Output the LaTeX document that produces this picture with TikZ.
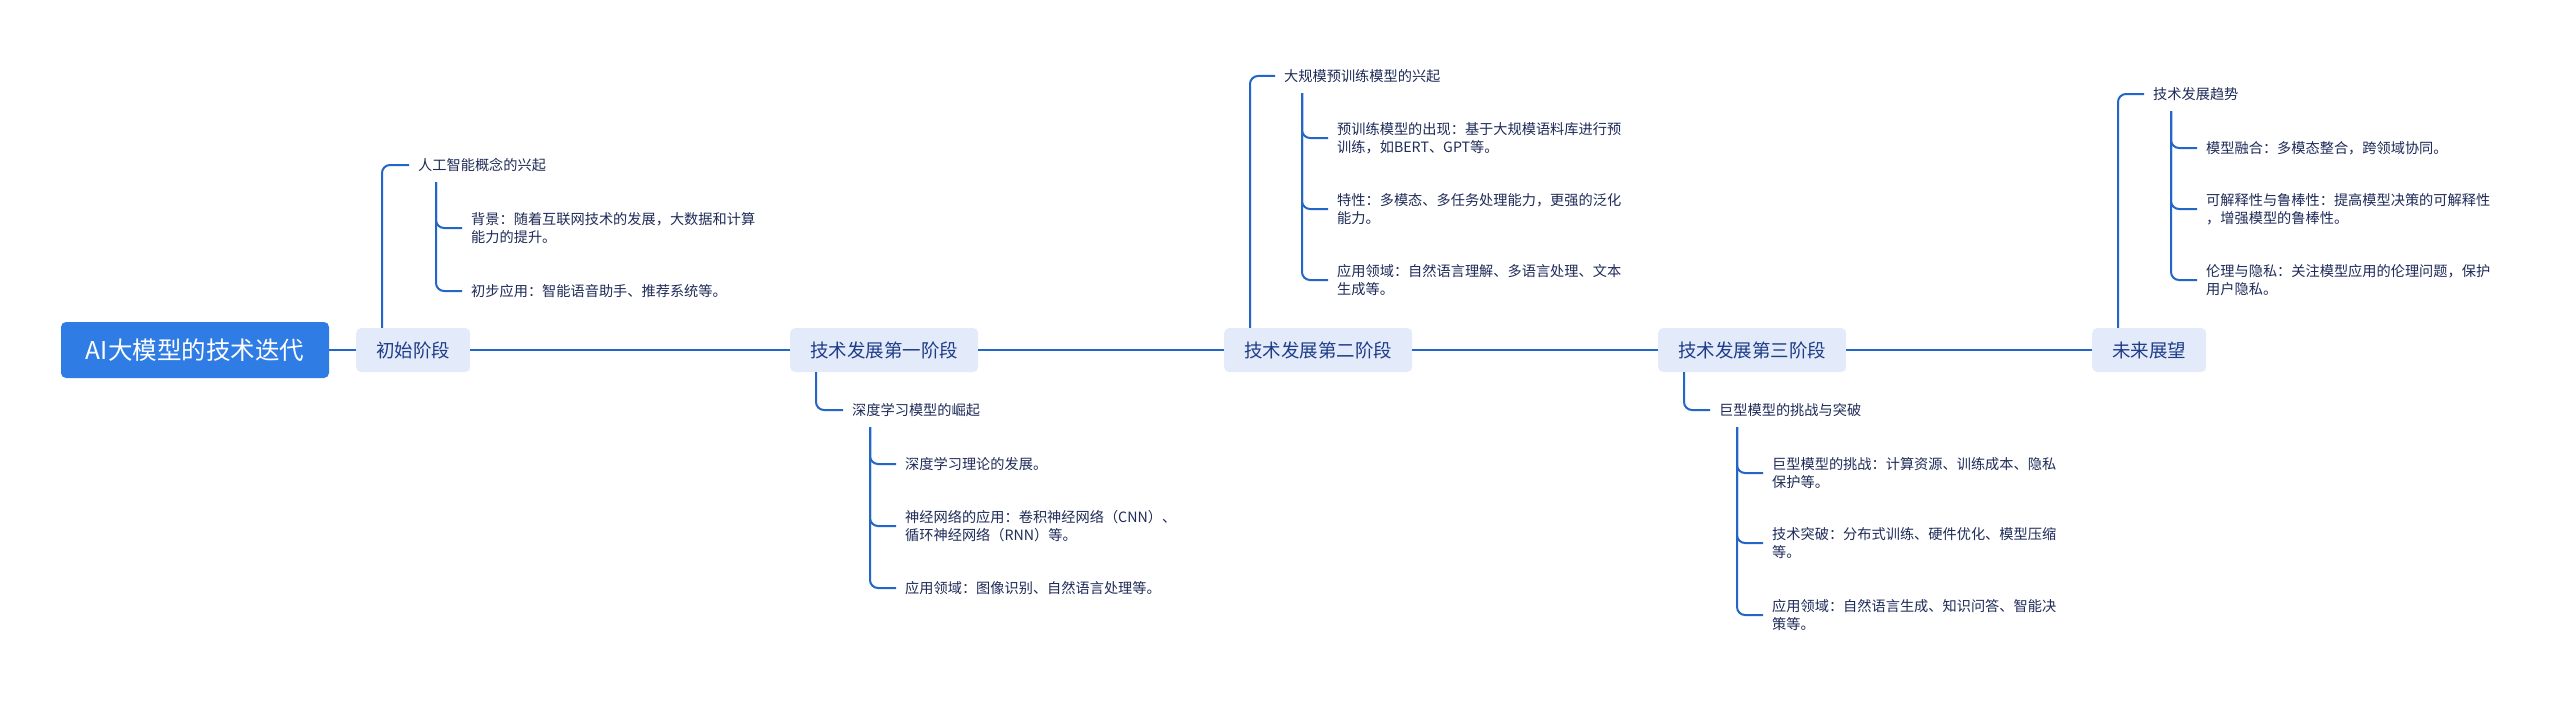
\documentclass[tikz,border=0pt]{standalone}
\usepackage{fontspec}
\setmainfont{Noto Sans CJK SC}
\definecolor{linec}{HTML}{2266C8}
\definecolor{rootc}{HTML}{2F7CE4}
\definecolor{stagef}{HTML}{E3EBFA}
\definecolor{staget}{HTML}{1E3C88}
\definecolor{leaft}{HTML}{1F2B58}
\tikzset{
  conn/.style={draw=linec, line width=2pt, rounded corners=8pt},
  rootbox/.style={fill=rootc, rounded corners=5pt, text=white, minimum width=268pt, minimum height=56pt, inner sep=0pt, font=\fontsize{24.5}{28}\selectfont},
  stagebox/.style={fill=stagef, rounded corners=5pt, text=staget, minimum height=44pt, inner xsep=20pt, inner ysep=0pt, anchor=west, font=\fontsize{18.5}{22}\selectfont},
  headtext/.style={text=leaft, inner sep=0pt, anchor=west, font=\fontsize{14.2}{18.3}\selectfont},
  leaftext/.style={text=leaft, inner sep=0pt, anchor=west, align=left, font=\fontsize{14.2}{18.3}\selectfont}
}
\begin{document}
\begin{tikzpicture}[x=1pt,y=-1pt]
\fill[white] (0,0) rectangle (2560,701);
\useasboundingbox (0,0) rectangle (2560,701);

% root and stages
\node[rootbox] (root) at (195,350) {AI大模型的技术迭代};
\node[stagebox] (s0) at (356,350) {初始阶段};
\node[stagebox] (s1) at (790,350) {技术发展第一阶段};
\node[stagebox] (s2) at (1224,350) {技术发展第二阶段};
\node[stagebox] (s3) at (1658,350) {技术发展第三阶段};
\node[stagebox] (s4) at (2092,350) {未来展望};

\draw[conn] (root.east) -- (s0.west);
\draw[conn] (s0.east) -- (s1.west);
\draw[conn] (s1.east) -- (s2.west);
\draw[conn] (s2.east) -- (s3.west);
\draw[conn] (s3.east) -- (s4.west);

% stage 0
\node[headtext] (h0) at (418,165) {人工智能概念的兴起};
\node[leaftext] (l01) at (471,228) {背景：随着互联网技术的发展，大数据和计算\\能力的提升。};
\node[leaftext] (l02) at (471,291) {初步应用：智能语音助手、推荐系统等。};
\draw[conn] ([shift={(26,0)}]s0.north west) |- ([shift={(-9,0)}]h0.west);
\foreach \l in {l01,l02}
  \draw[conn] ([shift={(18,17)}]h0.west) |- ([shift={(-9,0)}]\l.west);

% stage 1
\node[headtext] (h1) at (852,410) {深度学习模型的崛起};
\node[leaftext] (l11) at (905,464) {深度学习理论的发展。};
\node[leaftext] (l12) at (905,526) {神经网络的应用：卷积神经网络（CNN）、\\循环神经网络（RNN）等。};
\node[leaftext] (l13) at (905,588) {应用领域：图像识别、自然语言处理等。};
\draw[conn] ([shift={(26,0)}]s1.south west) |- ([shift={(-9,0)}]h1.west);
\foreach \l in {l11,l12,l13}
  \draw[conn] ([shift={(18,17)}]h1.west) |- ([shift={(-9,0)}]\l.west);

% stage 2
\node[headtext] (h2) at (1284,76) {大规模预训练模型的兴起};
\node[leaftext] (l21) at (1337,138) {预训练模型的出现：基于大规模语料库进行预\\训练，如BERT、GPT等。};
\node[leaftext] (l22) at (1337,209) {特性：多模态、多任务处理能力，更强的泛化\\能力。};
\node[leaftext] (l23) at (1337,280) {应用领域：自然语言理解、多语言处理、文本\\生成等。};
\draw[conn] ([shift={(26,0)}]s2.north west) |- ([shift={(-9,0)}]h2.west);
\foreach \l in {l21,l22,l23}
  \draw[conn] ([shift={(18,17)}]h2.west) |- ([shift={(-9,0)}]\l.west);

% stage 3
\node[headtext] (h3) at (1719,410) {巨型模型的挑战与突破};
\node[leaftext] (l31) at (1772,473) {巨型模型的挑战：计算资源、训练成本、隐私\\保护等。};
\node[leaftext] (l32) at (1772,543) {技术突破：分布式训练、硬件优化、模型压缩\\等。};
\node[leaftext] (l33) at (1772,615) {应用领域：自然语言生成、知识问答、智能决\\策等。};
\draw[conn] ([shift={(26,0)}]s3.south west) |- ([shift={(-9,0)}]h3.west);
\foreach \l in {l31,l32,l33}
  \draw[conn] ([shift={(18,17)}]h3.west) |- ([shift={(-9,0)}]\l.west);

% stage 4
\node[headtext] (h4) at (2153,94) {技术发展趋势};
\node[leaftext] (l41) at (2206,148) {模型融合：多模态整合，跨领域协同。};
\node[leaftext] (l42) at (2206,209) {可解释性与鲁棒性：提高模型决策的可解释性\\，增强模型的鲁棒性。};
\node[leaftext] (l43) at (2206,280) {伦理与隐私：关注模型应用的伦理问题，保护\\用户隐私。};
\draw[conn] ([shift={(26,0)}]s4.north west) |- ([shift={(-9,0)}]h4.west);
\foreach \l in {l41,l42,l43}
  \draw[conn] ([shift={(18,17)}]h4.west) |- ([shift={(-9,0)}]\l.west);
\end{tikzpicture}
\end{document}
